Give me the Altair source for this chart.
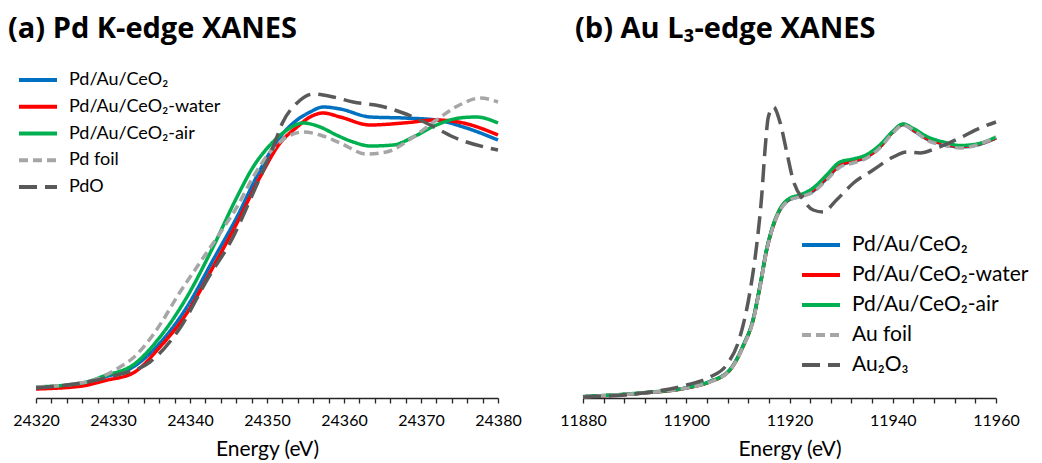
import altair as alt
import pandas as pd

# ---------------- Panel (a): Pd K-edge XANES ----------------
a_names = ["Pd/Au/CeO₂", "Pd/Au/CeO₂-water", "Pd/Au/CeO₂-air", "Pd foil", "PdO"]
a_colors = ["#0070C0", "#FF0000", "#00B050", "#A6A6A6", "#595959"]
a_dashes = [[1, 0], [1, 0], [1, 0], [9, 5], [18, 8]]

a_blue_e = [24320, 24326, 24329, 24332.6, 24336.1, 24339.6, 24343, 24346.1, 24349.1, 24351.7, 24353.9,
            24355.6, 24357.3, 24359.5, 24363.4, 24367.7, 24372, 24375.5, 24380]
a_blue_mu = [0.04, 0.056, 0.085, 0.124, 0.22, 0.364, 0.552, 0.724, 0.912, 1.044, 1.112,
             1.144, 1.164, 1.156, 1.124, 1.12, 1.112, 1.084, 1.032]

a_red_e = [24320, 24326, 24329, 24332.6, 24336.1, 24339.6, 24343, 24346.1, 24349.1, 24351.7, 24353.9,
           24355.6, 24357.3, 24359.5, 24363.4, 24367.7, 24372, 24375.5, 24380]
a_red_mu = [0.036, 0.048, 0.07, 0.1, 0.204, 0.34, 0.524, 0.7, 0.884, 1.02, 1.084,
            1.124, 1.14, 1.124, 1.092, 1.1, 1.112, 1.1, 1.052]

a_green_e = [24320, 24326, 24329, 24332.6, 24336.1, 24339.6, 24343, 24346.1, 24348.2, 24350.4, 24352.6,
             24354.7, 24356.9, 24359, 24361.2, 24363.4, 24366.4, 24369, 24372, 24375, 24377.2, 24380]
a_green_mu = [0.044, 0.06, 0.09, 0.132, 0.244, 0.404, 0.604, 0.804, 0.924, 1.012, 1.072,
              1.1, 1.084, 1.052, 1.024, 1.008, 1.012, 1.044, 1.092, 1.12, 1.124, 1.1]

a_foil_e = [24320, 24326.6, 24330.9, 24332.6, 24334.4, 24336.5, 24338.3, 24340.9, 24343.9, 24346.1, 24348.2,
            24350.4, 24352.6, 24354.7, 24356.9, 24359.5, 24362.9, 24365.5, 24369, 24372, 24375,
            24377.7, 24380]
a_foil_mu = [0.044, 0.064, 0.124, 0.16, 0.22, 0.312, 0.404, 0.524, 0.66, 0.764, 0.884,
             0.984, 1.044, 1.064, 1.052, 1.02, 0.976, 0.984, 1.044, 1.112, 1.172,
             1.2, 1.184]

a_oxide_e = [24320, 24325, 24330, 24334.8, 24338.7, 24342.2, 24345.6, 24348.2, 24350.8, 24352, 24353.9,
             24356, 24358.6, 24361.2, 24364.7, 24367.7, 24371.2, 24374.2, 24380]
a_oxide_mu = [0.04, 0.056, 0.088, 0.144, 0.28, 0.472, 0.644, 0.82, 1.004, 1.1, 1.18,
              1.216, 1.204, 1.184, 1.168, 1.14, 1.092, 1.044, 0.992]

a_ticks = list(range(24320, 24381, 2))

# ---------------- Panel (b): Au L3-edge XANES ----------------
b_names = ["Pd/Au/CeO₂", "Pd/Au/CeO₂-water", "Pd/Au/CeO₂-air", "Au foil", "Au₂O₃"]
b_colors = ["#0070C0", "#FF0000", "#00B050", "#A6A6A6", "#595959"]
b_dashes = [[1, 0], [1, 0], [1, 0], [9, 5], [18, 8]]

b_e = [11880, 11891.6, 11900, 11904.6, 11908.5, 11911, 11913, 11914.3, 11915.6, 11916.8, 11918.2,
       11920, 11922, 11924.6, 11927.2, 11929.8, 11932.3, 11935, 11937.5, 11940, 11942, 11944,
       11946.6, 11949.8, 11953, 11956.3, 11960]
b_blue_mu = [0.005, 0.02, 0.04, 0.066, 0.114, 0.208, 0.318, 0.45, 0.596, 0.686, 0.754,
             0.794, 0.806, 0.828, 0.878, 0.93, 0.946, 0.964, 1.004, 1.064, 1.094, 1.07,
             1.036, 1.016, 1.004, 1.012, 1.04]
b_red_mu = [0.005, 0.02, 0.04, 0.065, 0.113, 0.206, 0.316, 0.448, 0.594, 0.686, 0.756,
            0.796, 0.808, 0.832, 0.882, 0.932, 0.948, 0.966, 1.004, 1.064, 1.094, 1.072,
            1.038, 1.018, 1.006, 1.014, 1.04]
b_green_mu = [0.006, 0.021, 0.041, 0.066, 0.114, 0.208, 0.318, 0.45, 0.598, 0.69, 0.758,
              0.798, 0.812, 0.84, 0.892, 0.944, 0.956, 0.974, 1.012, 1.066, 1.096, 1.078,
              1.046, 1.024, 1.01, 1.016, 1.044]
b_foil_mu = [0.005, 0.02, 0.04, 0.064, 0.112, 0.204, 0.312, 0.444, 0.592, 0.684, 0.752,
             0.792, 0.804, 0.824, 0.872, 0.924, 0.94, 0.96, 1.0, 1.06, 1.092, 1.072,
             1.032, 1.012, 1.0, 1.012, 1.044]

b_oxide_e = [11880, 11891.6, 11900.1, 11904.6, 11907.8, 11910.4, 11912.3, 11913.6, 11914.6, 11915.3,
             11915.9, 11916.9, 11918.2, 11919.5, 11920.7, 11922.7, 11924.6, 11926.5, 11929.1,
             11932.4, 11936.2, 11940.1, 11942.7, 11945.3, 11948.5, 11953, 11956.9, 11960]
b_oxide_mu = [0.004, 0.02, 0.052, 0.084, 0.132, 0.244, 0.42, 0.604, 0.804, 1.004,
              1.124, 1.164, 1.1, 0.98, 0.872, 0.792, 0.752, 0.744, 0.792,
              0.86, 0.912, 0.964, 0.984, 0.98, 1.0, 1.04, 1.08, 1.104]

b_ticks = list(range(11880, 11961, 4))

FONT = "Lato"
TITLE_FONT = "Open Sans"
AXIS_COLOR = "#262626"


def make_df(names, energies, mus):
    rows = []
    for name, es, ms in zip(names, energies, mus):
        for e, m in zip(es, ms):
            rows.append({"series": name, "energy": e, "mu": m})
    return pd.DataFrame(rows)


def panel(df, names, colors, dashes, xdom, ticks, step, width, title, title_dx,
          lx, ly, lfont, clip_h, row_pad, loff):
    leg = alt.Legend(orient="none", legendX=lx, legendY=ly, title=None,
                     symbolType="stroke", symbolSize=1444, symbolStrokeWidth=4,
                     labelFontSize=lfont, labelFont=FONT, labelColor="black",
                     clipHeight=clip_h, rowPadding=row_pad, labelOffset=loff,
                     padding=0, labelLimit=400)
    return alt.Chart(df).mark_line(strokeWidth=3.5, interpolate="monotone").encode(
        x=alt.X("energy:Q", scale=alt.Scale(domain=xdom, nice=False, zero=False),
                axis=alt.Axis(values=ticks, format="d",
                              labelExpr=f"datum.value % {step} == 0 ? datum.label : ''",
                              title="Energy (eV)", grid=False, domainColor=AXIS_COLOR,
                              tickColor=AXIS_COLOR, tickSize=5, domainWidth=1.3, tickWidth=1.3,
                              labelFontSize=16, titleFontSize=21, titleFontWeight="normal",
                              labelFont=FONT, titleFont=FONT, labelColor="black",
                              titleColor="black", labelPadding=9, titlePadding=10,
                              labelOverlap=False, labelFlush=False)),
        y=alt.Y("mu:Q", scale=alt.Scale(domain=[0, 1.352], nice=False, zero=False), axis=None),
        color=alt.Color("series:N", scale=alt.Scale(domain=names, range=colors), legend=leg),
        strokeDash=alt.StrokeDash("series:N", scale=alt.Scale(domain=names, range=dashes), legend=leg),
    ).properties(
        width=width, height=338,
        title=alt.TitleParams(text=title, anchor="start", frame="group", fontSize=29,
                              font=TITLE_FONT, fontWeight="bold", color="black",
                              dx=title_dx, offset=16),
    )


df_a = make_df(a_names, [a_blue_e, a_red_e, a_green_e, a_foil_e, a_oxide_e],
               [a_blue_mu, a_red_mu, a_green_mu, a_foil_mu, a_oxide_mu])
df_b = make_df(b_names, [b_e, b_e, b_e, b_e, b_oxide_e],
               [b_blue_mu, b_red_mu, b_green_mu, b_foil_mu, b_oxide_mu])

chart_a = panel(df_a, a_names, a_colors, a_dashes, [24320, 24380], a_ticks, 10, 462,
                "(a) Pd K-edge XANES", -28, -19, 10, 18, 20, 6.75, 10)
chart_b = panel(df_b, b_names, b_colors, b_dashes, [11880, 11960], b_ticks, 20, 413,
                "(b) Au L₃-edge XANES", -8, 217, 174, 21, 22, 8, 10)

chart = alt.hconcat(chart_a, chart_b, spacing=85, bounds="flush").resolve_scale(
    color="independent", strokeDash="independent", x="independent", y="independent"
).resolve_legend(color="independent", strokeDash="independent").properties(
    padding={"left": 0, "top": 7, "right": 0, "bottom": 2}
).configure_view(stroke=None)

chart.save("out.html", embed_options={"renderer": "svg", "actions": False})
